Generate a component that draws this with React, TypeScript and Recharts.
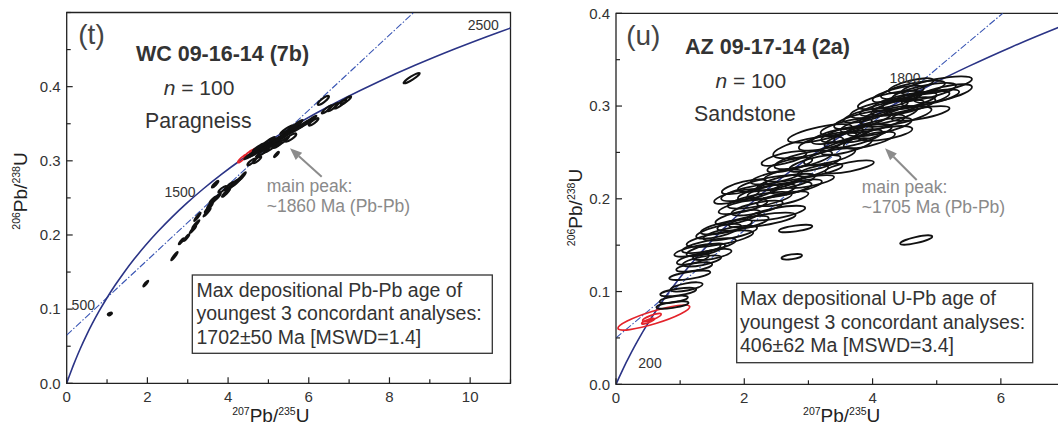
import React from 'react';
import { ComposedChart, XAxis, YAxis, Line, Scatter, ReferenceArea } from 'recharts';

const FONT = '"Liberation Sans", Arial, Helvetica, sans-serif';
const INK = '#333';

// Wetherill concordia (age in Ma -> 207Pb/235U, 206Pb/238U)
const concordiaAges = [0, 50, 100, 150, 200, 250, 300, 400, 500, 600, 700, 800, 900, 1000, 1100, 1200, 1300, 1400, 1500, 1600, 1700, 1800, 1900, 2000, 2100, 2200, 2300, 2400, 2500, 2550];
const concordiaX = [0, 0.0505, 0.1035, 0.1592, 0.2177, 0.2792, 0.3437, 0.4828, 0.6363, 0.8056, 0.9925, 1.1987, 1.4263, 1.6774, 1.9545, 2.2603, 2.5977, 2.9701, 3.381, 3.8344, 4.3348, 4.8869, 5.4962, 6.1685, 6.9105, 7.7292, 8.6326, 9.6296, 10.7297, 11.3218];
const concordiaY = [0, 0.00779, 0.01563, 0.02354, 0.03151, 0.03954, 0.04764, 0.06402, 0.08065, 0.09754, 0.1147, 0.13213, 0.14983, 0.1678, 0.18606, 0.2046, 0.22344, 0.24256, 0.26199, 0.28172, 0.30175, 0.3221, 0.34277, 0.36377, 0.38509, 0.40674, 0.42873, 0.45107, 0.47375, 0.48523];

// dash-dot line drawn through each panel (two ends)
const chordT = [{ x: 0, y: 0.065 }, { x: 8.6, y: 0.5 }];
const chordU = [{ x: 0, y: 0.05 }, { x: 6.03, y: 0.4 }];

// error ellipses: [207Pb/235U, 206Pb/238U, half-width in x, half-height in y, rho]
type Ell = [number, number, number, number, number];

const ellT: Ell[] = [
  [1.07, 0.0935, 0.05, 0.0018, 0.5],
  [1.96, 0.1345, 0.06, 0.0038, 0.93],
  [2.67, 0.1715, 0.08, 0.0055, 0.95],
  [2.84, 0.1915, 0.06, 0.004, 0.95],
  [2.97, 0.1965, 0.07, 0.0045, 0.95],
  [3.13, 0.2075, 0.08, 0.005, 0.96],
  [3.2, 0.2145, 0.09, 0.0055, 0.96],
  [3.24, 0.2245, 0.08, 0.0055, 0.96],
  [3.48, 0.2305, 0.09, 0.0055, 0.96],
  [3.52, 0.2365, 0.1, 0.006, 0.96],
  [3.58, 0.2425, 0.1, 0.006, 0.96],
  [3.62, 0.2475, 0.08, 0.0045, 0.95],
  [3.72, 0.2505, 0.1, 0.0055, 0.95],
  [3.68, 0.2685, 0.08, 0.0045, 0.9],
  [3.86, 0.2615, 0.1, 0.0045, 0.85],
  [3.95, 0.257, 0.1, 0.0055, 0.93],
  [4.02, 0.266, 0.11, 0.0055, 0.93],
  [4.12, 0.268, 0.11, 0.006, 0.95],
  [4.22, 0.272, 0.11, 0.006, 0.95],
  [4.35, 0.279, 0.09, 0.0055, 0.95],
  [4.58, 0.2985, 0.1, 0.0045, 0.85],
  [4.72, 0.3015, 0.1, 0.0045, 0.85],
  [5.2, 0.3085, 0.06, 0.0035, 0.9],
  [5.22, 0.322, 0.11, 0.0045, 0.8],
  [5.55, 0.3315, 0.14, 0.0055, 0.82],
  [4.6, 0.309, 0.2, 0.0068, 0.96],
  [4.7, 0.312, 0.2, 0.0068, 0.96],
  [4.8, 0.3155, 0.2, 0.0068, 0.96],
  [4.9, 0.319, 0.2, 0.0068, 0.96],
  [5.0, 0.3215, 0.2, 0.0068, 0.96],
  [5.1, 0.325, 0.2, 0.0068, 0.96],
  [5.2, 0.328, 0.2, 0.0068, 0.96],
  [5.3, 0.331, 0.2, 0.0068, 0.96],
  [5.4, 0.3345, 0.2, 0.0068, 0.96],
  [5.5, 0.338, 0.2, 0.0068, 0.96],
  [5.6, 0.341, 0.2, 0.0068, 0.96],
  [5.75, 0.345, 0.19, 0.0065, 0.96],
  [5.9, 0.35, 0.17, 0.006, 0.96],
  [6.05, 0.355, 0.14, 0.0058, 0.96],
  [4.85, 0.311, 0.16, 0.006, 0.95],
  [5.05, 0.317, 0.16, 0.006, 0.95],
  [5.35, 0.326, 0.16, 0.006, 0.95],
  [5.0, 0.326, 0.16, 0.006, 0.95],
  [5.45, 0.342, 0.16, 0.006, 0.95],
  [5.7, 0.349, 0.15, 0.006, 0.95],
  [4.75, 0.318, 0.14, 0.0055, 0.95],
  [6.12, 0.3525, 0.12, 0.005, 0.88],
  [6.36, 0.3815, 0.14, 0.006, 0.85],
  [6.45, 0.3695, 0.13, 0.0055, 0.92],
  [6.6, 0.3725, 0.13, 0.0055, 0.92],
  [6.78, 0.3765, 0.15, 0.006, 0.9],
  [6.92, 0.3815, 0.13, 0.0055, 0.9],
  [8.55, 0.4115, 0.2, 0.007, 0.92],
];
const redT: Ell[] = [
  [4.35, 0.303, 0.11, 0.0055, 0.9],
  [4.5, 0.309, 0.11, 0.0055, 0.9],
  [4.6, 0.313, 0.07, 0.0035, 0.9],
];

const ellU: Ell[] = [
  [0.88, 0.0855, 0.25, 0.004, 0.6],
  [0.9, 0.0915, 0.22, 0.004, 0.6],
  [0.97, 0.0995, 0.28, 0.0045, 0.6],
  [1.1, 0.105, 0.25, 0.005, 0.6],
  [1.15, 0.1175, 0.32, 0.005, 0.65],
  [1.22, 0.1265, 0.28, 0.005, 0.6],
  [1.2, 0.135, 0.25, 0.006, 0.65],
  [1.34, 0.133, 0.3, 0.006, 0.65],
  [1.27, 0.1445, 0.36, 0.007, 0.7],
  [1.4, 0.145, 0.3, 0.007, 0.7],
  [1.45, 0.1495, 0.42, 0.008, 0.7],
  [1.62, 0.157, 0.52, 0.009, 0.7],
  [1.5, 0.14, 0.3, 0.006, 0.6],
  [1.6, 0.165, 0.35, 0.008, 0.7],
  [1.78, 0.163, 0.42, 0.008, 0.7],
  [1.72, 0.1695, 0.4, 0.008, 0.7],
  [1.9, 0.18, 0.35, 0.008, 0.7],
  [1.98, 0.1735, 0.4, 0.008, 0.7],
  [2.28, 0.177, 0.52, 0.008, 0.7],
  [2.8, 0.168, 0.26, 0.004, 0.6],
  [2.74, 0.1375, 0.16, 0.003, 0.5],
  [4.68, 0.1555, 0.25, 0.005, 0.75],
  [1.98, 0.1915, 0.38, 0.008, 0.7],
  [2.2, 0.19, 0.4, 0.008, 0.7],
  [2.5, 0.1845, 0.45, 0.008, 0.7],
  [2.6, 0.2, 0.4, 0.008, 0.7],
  [2.24, 0.1985, 0.5, 0.009, 0.7],
  [1.88, 0.2025, 0.35, 0.008, 0.7],
  [2.09, 0.2065, 0.45, 0.009, 0.7],
  [2.35, 0.207, 0.45, 0.009, 0.7],
  [2.55, 0.2095, 0.5, 0.009, 0.7],
  [2.81, 0.213, 0.4, 0.008, 0.7],
  [3.02, 0.2185, 0.38, 0.007, 0.7],
  [2.4, 0.2165, 0.5, 0.009, 0.7],
  [2.65, 0.218, 0.45, 0.009, 0.7],
  [2.0, 0.213, 0.35, 0.008, 0.7],
  [2.81, 0.2275, 0.5, 0.009, 0.7],
  [3.64, 0.2345, 0.38, 0.007, 0.7],
  [3.18, 0.231, 0.35, 0.007, 0.7],
  [3.1, 0.238, 0.4, 0.009, 0.7],
  [2.5, 0.2235, 0.4, 0.008, 0.7],
  [2.71, 0.2365, 0.35, 0.008, 0.7],
  [3.0, 0.2555, 0.55, 0.012, 0.65],
  [3.18, 0.2705, 0.5, 0.01, 0.7],
  [2.92, 0.242, 0.45, 0.01, 0.7],
  [2.62, 0.2435, 0.35, 0.008, 0.7],
  [3.33, 0.2455, 0.4, 0.009, 0.7],
  [3.3, 0.262, 0.45, 0.01, 0.7],
  [3.45, 0.268, 0.4, 0.009, 0.7],
  [3.59, 0.2565, 0.4, 0.009, 0.7],
  [3.7, 0.265, 0.45, 0.01, 0.7],
  [3.6, 0.27, 0.4, 0.009, 0.7],
  [3.85, 0.2705, 0.45, 0.01, 0.7],
  [4.0, 0.281, 0.5, 0.01, 0.7],
  [4.11, 0.2775, 0.5, 0.01, 0.7],
  [4.25, 0.29, 0.45, 0.01, 0.7],
  [4.37, 0.2885, 0.55, 0.011, 0.7],
  [3.85, 0.285, 0.45, 0.01, 0.7],
  [3.59, 0.2775, 0.4, 0.009, 0.7],
  [4.27, 0.3065, 0.5, 0.01, 0.7],
  [4.3, 0.298, 0.5, 0.009, 0.7],
  [4.48, 0.2995, 0.5, 0.01, 0.7],
  [4.5, 0.305, 0.5, 0.01, 0.7],
  [4.63, 0.3175, 0.5, 0.01, 0.7],
  [4.8, 0.315, 0.5, 0.01, 0.7],
  [5.0, 0.322, 0.55, 0.01, 0.7],
  [4.68, 0.3065, 0.52, 0.01, 0.7],
  [4.75, 0.292, 0.45, 0.008, 0.7],
  [4.2, 0.2705, 0.42, 0.008, 0.6],
  [3.95, 0.2635, 0.4, 0.009, 0.7],
  [4.4, 0.313, 0.4, 0.009, 0.7],
  [4.1, 0.297, 0.45, 0.01, 0.7],
  [3.9, 0.29, 0.35, 0.008, 0.7],
  [4.6, 0.322, 0.35, 0.008, 0.7],
  [5.1, 0.3135, 0.45, 0.01, 0.7],
  [4.9, 0.309, 0.45, 0.009, 0.7],
];
const redU: Ell[] = [
  [0.59, 0.072, 0.56, 0.0135, 0.85],
  [0.56, 0.072, 0.145, 0.0043, 0.8],
  [0.5, 0.068, 0.1, 0.003, 0.8],
];

const xTicksT = [0, 1, 2, 3, 4, 5, 6, 7, 8, 9, 10, 11];
const xLabelsT = [0, 2, 4, 6, 8, 10];
const yTicksT = [0, 0.05, 0.1, 0.15, 0.2, 0.25, 0.3, 0.35, 0.4, 0.45, 0.5];
const yLabelsT = [0, 0.1, 0.2, 0.3, 0.4];
const xTicksU = [0, 1, 2, 3, 4, 5, 6, 7];
const xLabelsU = [0, 2, 4, 6];
const yTicksU = [0, 0.05, 0.1, 0.15, 0.2, 0.25, 0.3, 0.35, 0.4];
const yLabelsU = [0, 0.1, 0.2, 0.3, 0.4];

const AXIS_W = 30;
const AXIS_H = 30;

const has = (list: number[], v: number) => list.some((l) => Math.abs(l - v) < 1e-9);

function ellipseShape(kx: number, ky: number, color: string, sw: number) {
  return (sp: any) => {
    const { cx, cy, payload } = sp;
    if (cx == null || cy == null || !payload) return <g />;
    const a = payload.sx * kx;
    const b = payload.sy * ky;
    const cxx = a * a;
    const cyy = b * b;
    const cxy = -payload.rho * a * b;
    const mid = (cxx + cyy) / 2;
    const d = Math.sqrt(((cxx - cyy) / 2) ** 2 + cxy * cxy);
    const rx = Math.sqrt(mid + d);
    const ry = Math.sqrt(Math.max(mid - d, 0.6));
    const ang = (0.5 * Math.atan2(2 * cxy, cxx - cyy) * 180) / Math.PI;
    return (
      <ellipse cx={cx} cy={cy} rx={rx} ry={ry} transform={`rotate(${ang} ${cx} ${cy})`}
        fill="none" stroke={color} strokeWidth={sw} />
    );
  };
}

type PanelProps = {
  width: number;
  height: number;
  margin: { top: number; right: number; bottom: number; left: number };
  xMax: number;
  yMax: number;
  xTicks: number[];
  xLabels: number[];
  yTicks: number[];
  yLabels: number[];
  ellipses: Ell[];
  reds: Ell[];
  chord: { x: number; y: number }[];
  sw: number;
};

function Panel(p: PanelProps) {
  const plotW = p.width - p.margin.left - p.margin.right - AXIS_W;
  const plotH = p.height - p.margin.top - p.margin.bottom - AXIS_H;
  const kx = plotW / p.xMax;
  const ky = plotH / p.yMax;
  const toRows = (list: Ell[]) => list.map(([x, y, sx, sy, rho]) => ({ x, y, sx, sy, rho }));
  const curve = concordiaAges.map((t, i) => ({ t, x: concordiaX[i], y: concordiaY[i] }));

  const xTick = (tp: any) => {
    const v = tp.payload.value;
    const major = has(p.xLabels, v);
    return (
      <g>
        <line x1={tp.x} x2={tp.x} y1={tp.y} y2={tp.y - (major ? 6 : 4)} stroke="#222" strokeWidth={1.2} />
        {major && (
          <text x={tp.x} y={tp.y + 8} dy="0.71em" textAnchor="middle" fontSize={15} fontFamily={FONT} fill={INK}>
            {v}
          </text>
        )}
      </g>
    );
  };
  const yTick = (tp: any) => {
    const v = tp.payload.value;
    const major = has(p.yLabels, v);
    return (
      <g>
        <line x1={tp.x} x2={tp.x + (major ? 6 : 4)} y1={tp.y} y2={tp.y} stroke="#222" strokeWidth={1.2} />
        {major && (
          <text x={tp.x - 6} y={tp.y} dy="0.35em" textAnchor="end" fontSize={15} fontFamily={FONT} fill={INK}>
            {v.toFixed(1)}
          </text>
        )}
      </g>
    );
  };

  return (
    <ComposedChart width={p.width} height={p.height} margin={p.margin}>
      <XAxis type="number" dataKey="x" domain={[0, p.xMax]} ticks={p.xTicks} interval={0} allowDataOverflow
        axisLine={false} tickLine={false} tickSize={0} tickMargin={0} height={AXIS_H} tick={xTick} />
      <YAxis type="number" dataKey="y" domain={[0, p.yMax]} ticks={p.yTicks} interval={0} allowDataOverflow
        axisLine={false} tickLine={false} tickSize={0} tickMargin={0} width={AXIS_W} tick={yTick} />
      <ReferenceArea x1={0} x2={p.xMax} y1={0} y2={p.yMax} fill="none" fillOpacity={0} stroke="#222" strokeWidth={1.3} ifOverflow="visible" />
      <Line data={p.chord} dataKey="y" type="linear" stroke="#3a56b4" strokeWidth={1.1} strokeDasharray="7 2 1.5 2"
        dot={false} isAnimationActive={false} />
      <Line data={curve} dataKey="y" type="monotone" stroke="#2b3486" strokeWidth={1.6} dot={false} isAnimationActive={false} />
      <Scatter data={toRows(p.reds)} dataKey="y" shape={ellipseShape(kx, ky, '#e3232b', 1.7)} isAnimationActive={false} />
      <Scatter data={toRows(p.ellipses)} dataKey="y" shape={ellipseShape(kx, ky, '#111', p.sw)} isAnimationActive={false} />
    </ComposedChart>
  );
}

function Arrow({ x1, y1, x2, y2 }: { x1: number; y1: number; x2: number; y2: number }) {
  const dx = x2 - x1;
  const dy = y2 - y1;
  const len = Math.sqrt(dx * dx + dy * dy);
  const ux = dx / len;
  const uy = dy / len;
  const hl = 12;
  const hw = 4.8;
  const bx = x2 - ux * hl;
  const by = y2 - uy * hl;
  return (
    <g>
      <line x1={x1} y1={y1} x2={bx} y2={by} stroke="#8c8c8c" strokeWidth={2} />
      <polygon points={`${x2},${y2} ${bx - uy * hw},${by + ux * hw} ${bx + uy * hw},${by - ux * hw}`} fill="#8c8c8c" />
    </g>
  );
}

function AxisTitle({ x, y, a, b, rotate }: { x: number; y: number; a: string; b: string; rotate?: boolean }) {
  return (
    <text transform={`translate(${x},${y})${rotate ? ' rotate(-90)' : ''}`} textAnchor="middle"
      fontSize={19} fontFamily={FONT} fill="#222">
      <tspan fontSize={10.5} dy={-7}>{a}</tspan>
      <tspan dy={7}>Pb/</tspan>
      <tspan fontSize={10.5} dy={-7}>{b}</tspan>
      <tspan dy={7}>U</tspan>
    </text>
  );
}

export default function App() {
  const t = { fontFamily: FONT, fill: INK };
  return (
    <div style={{ position: 'absolute', left: 0, top: 0, width: 1058, height: 425, overflow: 'hidden', background: '#fff' }}>
      <div style={{ position: 'absolute', left: 0, top: 0 }}>
        <Panel width={530} height={425} margin={{ top: 12.5, right: 19.5, bottom: 11.7, left: 36.7 }}
          xMax={11} yMax={0.5} xTicks={xTicksT} xLabels={xLabelsT} yTicks={yTicksT} yLabels={yLabelsT}
          ellipses={ellT} reds={redT} chord={chordT} sw={2.1} />
      </div>
      <div style={{ position: 'absolute', left: 530, top: 0 }}>
        <Panel width={560} height={425} margin={{ top: 13.3, right: 25, bottom: 10.7, left: 56 }}
          xMax={7} yMax={0.4} xTicks={xTicksU} xLabels={xLabelsU} yTicks={yTicksU} yLabels={yLabelsU}
          ellipses={ellU} reds={redU} chord={chordU} sw={1.8} />
      </div>
      <svg width={1058} height={425} style={{ position: 'absolute', left: 0, top: 0, pointerEvents: 'none' }}>
        {/* panel (t) */}
        <text x={91.5} y={44} textAnchor="middle" fontSize={28} {...t} fill="#444">(t)</text>
        <text x={222.5} y={60.7} textAnchor="middle" fontSize={21.5} fontWeight="bold" {...t}>WC 09-16-14 (7b)</text>
        <text x={199} y={95} textAnchor="middle" fontSize={21} {...t}>
          <tspan fontStyle="italic">n</tspan> = 100
        </text>
        <text x={198.3} y={127.5} textAnchor="middle" fontSize={21.3} {...t}>Paragneiss</text>
        <text x={180} y={196.5} textAnchor="middle" fontSize={14} {...t}>1500</text>
        <text x={83.3} y={310} textAnchor="middle" fontSize={14} {...t}>500</text>
        <text x={483.3} y={29.7} textAnchor="middle" fontSize={14} {...t}>2500</text>
        <Arrow x1={321.7} y1={176.7} x2={290} y2={148.3} />
        <text x={266.7} y={191.7} fontSize={17.5} fontFamily={FONT} fill="#8a8a8a">main peak:</text>
        <text x={266.7} y={211.7} fontSize={17.5} fontFamily={FONT} fill="#8a8a8a">~1860 Ma (Pb-Pb)</text>
        <rect x={192.3} y={275} width={300} height={78.3} fill="#fff" stroke="#333" strokeWidth={1.3} />
        <text x={196.5} y={296.7} fontSize={19.5} {...t}>Max depositional Pb-Pb age of</text>
        <text x={196.5} y={320} fontSize={19.5} {...t}>youngest 3 concordant analyses:</text>
        <text x={196.5} y={344} fontSize={19.5} {...t}>1702±50 Ma [MSWD=1.4]</text>
        <AxisTitle x={270.8} y={421.5} a="207" b="235" />
        <AxisTitle x={26.5} y={191} a="206" b="238" rotate />

        {/* panel (u) */}
        <text x={643.3} y={45} textAnchor="middle" fontSize={28} {...t} fill="#444">(u)</text>
        <text x={767.5} y={53.5} textAnchor="middle" fontSize={21.5} fontWeight="bold" {...t}>AZ 09-17-14 (2a)</text>
        <text x={750.8} y={87.5} textAnchor="middle" fontSize={21} {...t}>
          <tspan fontStyle="italic">n</tspan> = 100
        </text>
        <text x={745} y={120.7} textAnchor="middle" fontSize={21.3} {...t}>Sandstone</text>
        <text x={905} y={83.3} textAnchor="middle" fontSize={14} {...t}>1800</text>
        <text x={650} y={367.7} textAnchor="middle" fontSize={14} {...t}>200</text>
        <Arrow x1={916.7} y1={180} x2={885} y2={148.3} />
        <text x={861.7} y={192.7} fontSize={17.5} fontFamily={FONT} fill="#8a8a8a">main peak:</text>
        <text x={861.7} y={212.7} fontSize={17.5} fontFamily={FONT} fill="#8a8a8a">~1705 Ma (Pb-Pb)</text>
        <rect x={736.7} y={283.3} width={296} height={79.4} fill="#fff" stroke="#333" strokeWidth={1.3} />
        <text x={740} y={305} fontSize={19.5} {...t}>Max depositional U-Pb age of</text>
        <text x={740} y={328.5} fontSize={19.5} {...t}>youngest 3 concordant analyses:</text>
        <text x={740} y={352} fontSize={19.5} {...t}>406±62 Ma [MSWD=3.4]</text>
        <AxisTitle x={841.7} y={421.5} a="207" b="235" />
        <AxisTitle x={581.5} y={207.5} a="206" b="238" rotate />
      </svg>
    </div>
  );
}
